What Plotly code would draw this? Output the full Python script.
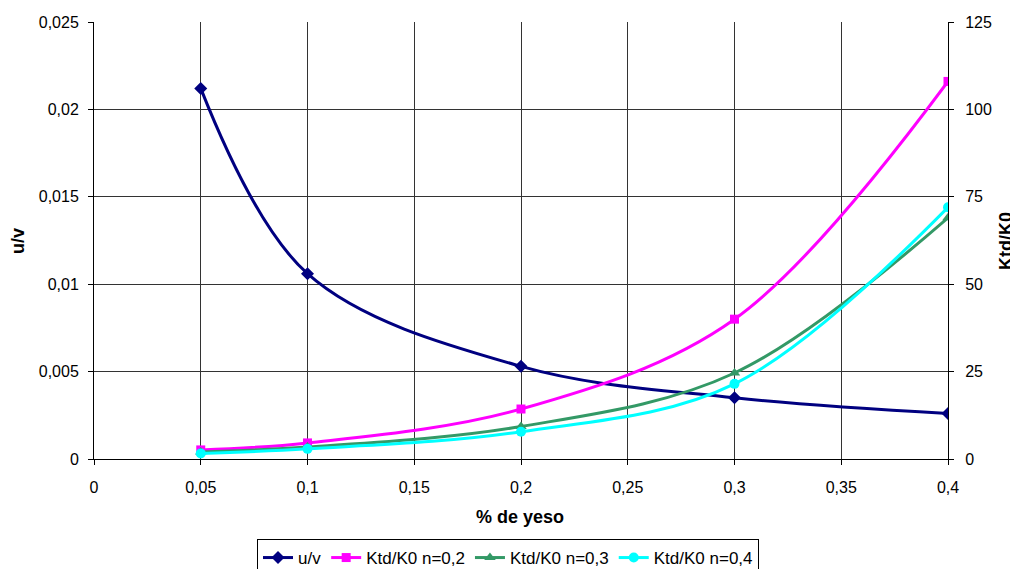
import plotly.graph_objects as go

x_vals = [0.05, 0.1, 0.2, 0.3, 0.4]
uv = [0.0212, 0.0106, 0.0053, 0.0035, 0.0026]
k_n02 = [2.6, 4.6, 14.3, 40.0, 108.0]
k_n03 = [2.0, 3.4, 9.3, 24.6, 69.0]
k_n04 = [1.6, 2.9, 7.8, 21.5, 72.0]

font = "Liberation Sans, Arial, sans-serif"

fig = go.Figure()
fig.add_trace(go.Scatter(x=x_vals, y=uv, name="u/v", mode="lines+markers",
                         line=dict(color="#000080", width=3, shape="spline", smoothing=1),
                         marker=dict(symbol="diamond", size=10, color="#000080"), yaxis="y"))
fig.add_trace(go.Scatter(x=x_vals, y=k_n02, name="Ktd/K0 n=0,2", mode="lines+markers",
                         line=dict(color="#FF00FF", width=3, shape="spline", smoothing=1),
                         marker=dict(symbol="square", size=9, color="#FF00FF"), yaxis="y2"))
fig.add_trace(go.Scatter(x=x_vals, y=k_n03, name="Ktd/K0 n=0,3", mode="lines+markers",
                         line=dict(color="#339966", width=3, shape="spline", smoothing=1),
                         marker=dict(symbol="triangle-up", size=10, color="#339966"), yaxis="y2"))
fig.add_trace(go.Scatter(x=x_vals, y=k_n04, name="Ktd/K0 n=0,4", mode="lines+markers",
                         line=dict(color="#00FFFF", width=3, shape="spline", smoothing=1),
                         marker=dict(symbol="circle", size=10, color="#00FFFF"), yaxis="y2"))

grid = "#333333"
fig.update_layout(
    width=1010, height=561,
    margin=dict(l=86, r=70, t=14, b=110, autoexpand=False),
    paper_bgcolor="white", plot_bgcolor="white",
    separators=",.",
    font=dict(family=font, size=16, color="black"),
    showlegend=True,
    legend=dict(orientation="h", x=(508 - 94) / 854, xanchor="center", y=(459 - 539) / 437,
                yanchor="top", bordercolor="black", borderwidth=1,
                font=dict(size=17, family=font), itemwidth=30, tracegroupgap=0),
    xaxis=dict(range=[0, 0.4], dtick=0.05, tick0=0, showgrid=True, gridcolor=grid, gridwidth=1,
               showline=True, linecolor="black", linewidth=1, ticks="outside", ticklen=5,
               tickcolor="black", zeroline=False, ticklabelstandoff=9, automargin=False),
    yaxis=dict(range=[0, 0.025], dtick=0.005, tick0=0, showgrid=True, gridcolor=grid, gridwidth=1,
               showline=True, linecolor="black", linewidth=1, ticks="outside", ticklen=5,
               tickcolor="black", zeroline=False, ticklabelstandoff=6, automargin=False),
    yaxis2=dict(range=[0, 125], dtick=25, tick0=0, overlaying="y", side="right", showgrid=False,
                showline=True, linecolor="black", linewidth=1, ticks="outside", ticklen=5,
                tickcolor="black", zeroline=False, ticklabelstandoff=8, automargin=False),
    annotations=[
        dict(text="<b>% de yeso</b>", xref="paper", yref="paper", x=(520 - 94) / 854,
             y=(459 - 517) / 437, xanchor="center", yanchor="middle", showarrow=False,
             font=dict(size=18)),
        dict(text="<b>u/v</b>", xref="paper", yref="paper", x=(18 - 94) / 854,
             y=(459 - 241) / 437, xanchor="center", yanchor="middle", showarrow=False,
             textangle=-90, font=dict(size=18)),
        dict(text="<b>Ktd/K0</b>", xref="paper", yref="paper", x=(1006 - 94) / 854,
             y=(459 - 241) / 437, xanchor="center", yanchor="middle", showarrow=False,
             textangle=-90, font=dict(size=18)),
    ],
)

fig.write_html("out.html")
